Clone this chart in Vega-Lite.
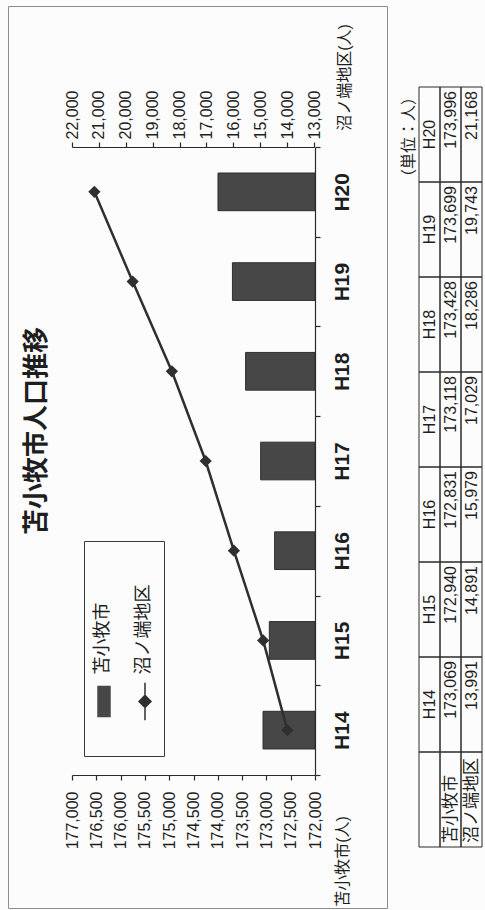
{
  "$schema": "https://vega.github.io/schema/vega-lite/v6.json",
  "background": "#fcfcfc",
  "padding": {"left": 7, "top": 5, "right": 0, "bottom": 3},
  "datasets": {
    "pop": [
      {"year": "H14", "苫小牧市": 173069, "沼ノ端地区": 13991},
      {"year": "H15", "苫小牧市": 172940, "沼ノ端地区": 14891},
      {"year": "H16", "苫小牧市": 172831, "沼ノ端地区": 15979},
      {"year": "H17", "苫小牧市": 173118, "沼ノ端地区": 17029},
      {"year": "H18", "苫小牧市": 173428, "沼ノ端地区": 18286},
      {"year": "H19", "苫小牧市": 173699, "沼ノ端地区": 19743},
      {"year": "H20", "苫小牧市": 173996, "沼ノ端地区": 21168}
    ],
    "rowlabels": [{"row": "hdr"}, {"row": "苫小牧市"}, {"row": "沼ノ端地区"}],
    "note": [{"text": "（単位：人）"}]
  },
  "config": {
    "font": "Liberation Sans, Noto Sans CJK JP",
    "view": {"stroke": "#8c8c8c", "strokeWidth": 1},
    "axis": {
      "grid": false,
      "labelColor": "#1e1e1e",
      "titleColor": "#1e1e1e",
      "domainColor": "#2a2a2a",
      "tickColor": "#2a2a2a",
      "domainWidth": 1.2,
      "tickWidth": 1.2,
      "tickSize": 5,
      "labelFontSize": 16,
      "titleFontSize": 16,
      "titleFontWeight": "normal",
      "labelFlush": false,
      "labelOverlap": false
    }
  },
  "spacing": 0,
  "hconcat": [
    {
      "width": 379,
      "height": 902,
      "title": {
        "text": "苫小牧市人口推移",
        "orient": "left",
        "anchor": "middle",
        "angle": -90,
        "offset": -42,
        "dx": 26,
        "fontSize": 26,
        "fontWeight": "bold",
        "color": "#1e1e1e"
      },
      "layer": [
        {
          "data": {"name": "pop"},
          "mark": {"type": "bar", "height": {"band": 0.42}, "stroke": "#2e2e2e", "strokeWidth": 1},
          "encoding": {
            "y": {
              "field": "year",
              "type": "nominal",
              "scale": {
                "domain": ["H20", "H19", "H18", "H17", "H16", "H15", "H14"],
                "range": [141, 769],
                "paddingInner": 0,
                "paddingOuter": 0
              },
              "axis": {
                "orient": "right",
                "offset": -72,
                "title": null,
                "labelAngle": -90,
                "labelAlign": "center",
                "labelBaseline": "middle",
                "labelPadding": 22,
                "labelFontSize": 21,
                "labelFontWeight": "bold",
                "tickBand": "extent"
              }
            },
            "x": {
              "field": "苫小牧市",
              "type": "quantitative",
              "scale": {"domain": [172000, 177000], "range": [307, 64]},
              "axis": {
                "orient": "bottom",
                "offset": -133,
                "values": [172000, 172500, 173000, 173500, 174000, 174500, 175000, 175500, 176000, 176500, 177000],
                "format": ",.0f",
                "labelAngle": -90,
                "labelAlign": "right",
                "labelBaseline": "middle",
                "labelPadding": 11,
                "title": "苫小牧市(人)",
                "titleAngle": -90,
                "titleAlign": "center",
                "titleBaseline": "middle",
                "titleX": 334,
                "titleY": 86
              }
            },
            "x2": {"datum": 172000},
            "color": {
              "datum": "苫小牧市",
              "type": "nominal",
              "scale": {"domain": ["苫小牧市", "沼ノ端地区"], "range": ["#474747", "#2f2f2f"]},
              "legend": {
                "orient": "none",
                "legendX": 76,
                "legendY": 535,
                "direction": "horizontal",
                "columns": 2,
                "title": null,
                "strokeColor": "#3a3a3a",
                "fillColor": "#fcfcfc",
                "padding": 10,
                "labelFontSize": 18,
                "labelColor": "#1e1e1e",
                "labelAlign": "left",
                "labelBaseline": "middle",
                "labelLimit": 300,
                "symbolSize": 1400,
                "symbolStrokeWidth": 1.5,
                "columnPadding": 22,
                "encoding": {
                  "labels": {"angle": {"value": -90}, "dx": {"value": 27}, "x": {"value": 9}, "y": {"value": 150}},
                  "symbols": {
                    "x": {"value": 10},
                    "y": {"value": 150},
                    "shape": {
                      "condition": {"test": "datum.value === '苫小牧市'", "value": "M-0.32,-0.8H0.32V0.8H-0.32Z M0,2.2"},
                      "value": "M0,-1V1M-0.32,0L0,-0.32L0.32,0L0,0.32Z M0,2.2"
                    },
                    "fill": {
                      "condition": {"test": "datum.value === '苫小牧市'", "value": "#474747"},
                      "value": "#2f2f2f"
                    },
                    "stroke": {"value": "#2e2e2e"}
                  }
                }
              }
            }
          }
        },
        {
          "data": {"name": "pop"},
          "mark": {"type": "line", "strokeWidth": 2.5, "point": {"shape": "diamond", "size": 150, "filled": true}},
          "encoding": {
            "y": {"field": "year", "type": "nominal"},
            "x": {
              "field": "沼ノ端地区",
              "type": "quantitative",
              "scale": {"domain": [13000, 22000], "range": [306, 64]},
              "axis": {
                "orient": "top",
                "offset": -141,
                "values": [13000, 14000, 15000, 16000, 17000, 18000, 19000, 20000, 21000, 22000],
                "format": ",.0f",
                "labelAngle": -90,
                "labelAlign": "left",
                "labelBaseline": "middle",
                "labelPadding": 3,
                "title": "沼ノ端地区(人)",
                "titleAngle": -90,
                "titleAlign": "center",
                "titleBaseline": "middle",
                "titleX": 336,
                "titleY": -70
              }
            },
            "color": {"datum": "沼ノ端地区", "type": "nominal"}
          }
        }
      ],
      "resolve": {"scale": {"x": "independent"}}
    },
    {
      "width": 99,
      "height": 902,
      "view": {"stroke": null},
      "layer": [
        {
          "data": {"name": "pop"},
          "transform": [{"fold": ["苫小牧市", "沼ノ端地区"], "as": ["row", "value"]}],
          "layer": [
            {
              "mark": {"type": "rect", "filled": false, "stroke": "#2a2a2a", "strokeWidth": 1},
              "encoding": {
                "x": {"field": "row", "type": "nominal", "axis": null,
                      "scale": {"domain": ["unit", "hdr", "苫小牧市", "沼ノ端地区"], "range": [10, 94], "paddingInner": 0, "paddingOuter": 0}},
                "y": {"field": "year", "type": "nominal", "axis": null,
                      "scale": {"domain": ["H20", "H19", "H18", "H17", "H16", "H15", "H14", "label"], "range": [81, 841], "paddingInner": 0, "paddingOuter": 0}}
              }
            },
            {
              "mark": {"type": "text", "angle": -90, "align": "right", "baseline": "middle", "dx": -4, "fontSize": 16, "color": "#1e1e1e"},
              "encoding": {
                "x": {"field": "row", "type": "nominal", "axis": null,
                      "scale": {"domain": ["unit", "hdr", "苫小牧市", "沼ノ端地区"], "range": [10, 94], "paddingInner": 0, "paddingOuter": 0}},
                "y": {"field": "year", "type": "nominal", "axis": null, "bandPosition": 0,
                      "scale": {"domain": ["H20", "H19", "H18", "H17", "H16", "H15", "H14", "label"], "range": [81, 841], "paddingInner": 0, "paddingOuter": 0}},
                "text": {"field": "value", "type": "quantitative", "format": ","}
              }
            }
          ]
        },
        {
          "data": {"name": "pop"},
          "layer": [
            {
              "mark": {"type": "rect", "filled": false, "stroke": "#2a2a2a", "strokeWidth": 1},
              "encoding": {
                "x": {"datum": "hdr", "type": "nominal", "axis": null,
                      "scale": {"domain": ["unit", "hdr", "苫小牧市", "沼ノ端地区"], "range": [10, 94], "paddingInner": 0, "paddingOuter": 0}},
                "y": {"field": "year", "type": "nominal", "axis": null,
                      "scale": {"domain": ["H20", "H19", "H18", "H17", "H16", "H15", "H14", "label"], "range": [81, 841], "paddingInner": 0, "paddingOuter": 0}}
              }
            },
            {
              "mark": {"type": "text", "angle": -90, "align": "center", "baseline": "middle", "fontSize": 16, "color": "#1e1e1e"},
              "encoding": {
                "x": {"datum": "hdr", "type": "nominal", "axis": null,
                      "scale": {"domain": ["unit", "hdr", "苫小牧市", "沼ノ端地区"], "range": [10, 94], "paddingInner": 0, "paddingOuter": 0}},
                "y": {"field": "year", "type": "nominal", "axis": null,
                      "scale": {"domain": ["H20", "H19", "H18", "H17", "H16", "H15", "H14", "label"], "range": [81, 841], "paddingInner": 0, "paddingOuter": 0}},
                "text": {"field": "year", "type": "nominal"}
              }
            }
          ]
        },
        {
          "data": {"name": "rowlabels"},
          "layer": [
            {
              "mark": {"type": "rect", "filled": false, "stroke": "#2a2a2a", "strokeWidth": 1},
              "encoding": {
                "x": {"field": "row", "type": "nominal", "axis": null,
                      "scale": {"domain": ["unit", "hdr", "苫小牧市", "沼ノ端地区"], "range": [10, 94], "paddingInner": 0, "paddingOuter": 0}},
                "y": {"datum": "label", "type": "nominal", "axis": null,
                      "scale": {"domain": ["H20", "H19", "H18", "H17", "H16", "H15", "H14", "label"], "range": [81, 841], "paddingInner": 0, "paddingOuter": 0}}
              }
            },
            {
              "transform": [{"filter": "datum.row !== 'hdr'"}],
              "mark": {"type": "text", "angle": -90, "align": "left", "baseline": "middle", "dx": 4, "fontSize": 17, "color": "#1e1e1e"},
              "encoding": {
                "x": {"field": "row", "type": "nominal", "axis": null,
                      "scale": {"domain": ["unit", "hdr", "苫小牧市", "沼ノ端地区"], "range": [10, 94], "paddingInner": 0, "paddingOuter": 0}},
                "y": {"datum": "label", "type": "nominal", "axis": null, "bandPosition": 1,
                      "scale": {"domain": ["H20", "H19", "H18", "H17", "H16", "H15", "H14", "label"], "range": [81, 841], "paddingInner": 0, "paddingOuter": 0}},
                "text": {"field": "row", "type": "nominal"}
              }
            }
          ]
        },
        {
          "data": {"name": "note"},
          "mark": {"type": "text", "angle": -90, "align": "right", "baseline": "middle", "dx": -2, "fontSize": 16, "color": "#1e1e1e"},
          "encoding": {
            "x": {"datum": "unit", "type": "nominal", "axis": null,
                  "scale": {"domain": ["unit", "hdr", "苫小牧市", "沼ノ端地区"], "range": [10, 94], "paddingInner": 0, "paddingOuter": 0}},
            "y": {"datum": "H20", "type": "nominal", "axis": null, "bandPosition": 0,
                  "scale": {"domain": ["H20", "H19", "H18", "H17", "H16", "H15", "H14", "label"], "range": [81, 841], "paddingInner": 0, "paddingOuter": 0}},
            "text": {"field": "text", "type": "nominal"}
          }
        }
      ]
    }
  ]
}
